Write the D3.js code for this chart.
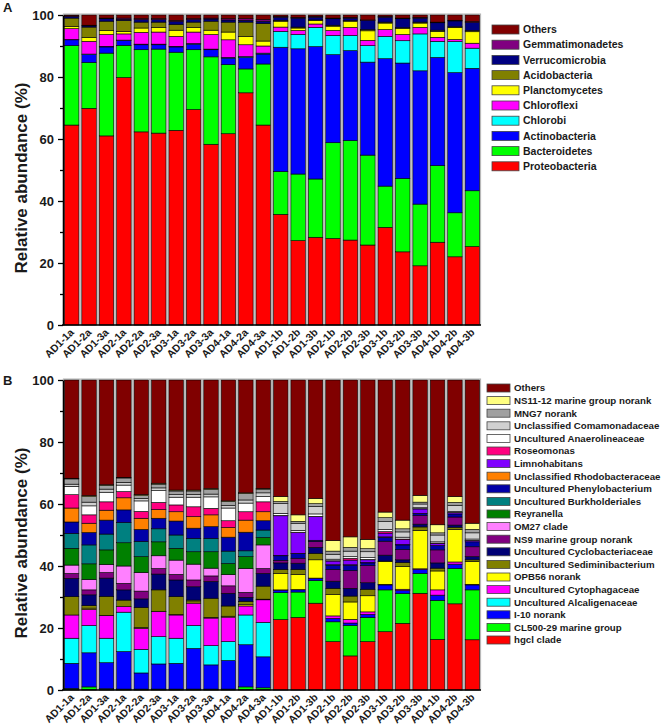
<!DOCTYPE html>
<html>
<head>
<meta charset="utf-8">
<style>
body{margin:0;background:#fff;}
svg{display:block;font-family:"Liberation Sans",Arial,sans-serif;font-weight:bold;}
</style>
</head>
<body>
<script src="https://d3js.org/d3.v7.min.js"></script>
<script>
const samples = ["AD1-1a","AD1-2a","AD1-3a","AD2-1a","AD2-2a","AD2-3a","AD3-1a","AD3-2a","AD3-3a","AD4-1a","AD4-2a","AD4-3a",
                 "AD1-1b","AD1-2b","AD1-3b","AD2-1b","AD2-2b","AD2-3b","AD3-1b","AD3-2b","AD3-3b","AD4-1b","AD4-2b","AD4-3b"]
const yTicks = [0, 20, 40, 60, 80, 100]

// panel A, phyla (bottom to top)
const proteobacteria = [64.5,69.9,61.0,79.8,62.3,61.9,62.8,69.5,58.3,61.7,74.9,64.5,35.7,27.2,28.3,27.9,27.4,25.8,31.5,23.6,19.1,26.7,22.0,25.3]
const bacteroidetes = [25.6,14.8,26.7,10.4,26.5,27.1,25.2,19.3,28.2,22.3,7.7,19.7,13.8,21.5,18.8,30.9,32.1,29.0,13.3,23.7,19.9,24.7,14.2,18.0]
const actinobacteria = [1.9,2.5,2.0,1.6,1.6,1.4,1.7,1.8,2.3,2.1,3.7,3.2,40.1,40.4,42.7,28.4,29.0,30.0,41.1,37.2,43.0,34.9,45.2,39.5]
const chlorobi = [0.1,0.2,0.2,0.1,0.2,0.2,0.2,0.2,0.2,0.2,0.3,0.3,5.1,4.6,6.2,6.2,4.9,5.3,7.2,7.2,11.9,5.2,10.0,6.5]
const chloroflexi = [3.5,4.1,3.8,2.0,3.8,3.9,3.2,3.7,4.7,5.7,3.8,2.3,1.4,1.3,1.1,1.6,2.6,1.7,2.2,2.0,2.1,1.3,0.7,1.6]
const planctomycetes = [0.7,1.3,1.3,0.8,1.4,1.5,2.0,1.5,1.4,2.5,2.7,1.6,1.9,0.8,1.1,1.4,2.0,3.1,2.1,1.9,1.4,1.9,3.8,3.7]
const acidobacteria = [2.7,3.3,3.0,3.5,1.9,1.7,1.8,1.7,2.9,3.2,4.6,5.6,0.3,0.3,0.2,0.3,0.2,0.4,0.3,0.3,0.3,0.4,0.3,0.4]
const verrucomicrobia = [0.5,0.4,0.8,0.4,0.8,0.8,1.0,0.8,0.7,0.7,0.6,0.8,1.0,2.9,0.9,2.1,0.8,2.9,1.6,2.9,1.3,2.4,1.9,2.6]
const gemmatimonadetes = [0.2,0.2,0.2,0.4,0.3,0.3,0.3,0.3,0.3,0.4,0.5,0.6,0.2,0.2,0.2,0.2,0.2,0.2,0.2,0.2,0.2,0.2,0.2,0.3]
const othersA = [0.3,3.3,1.0,1.0,1.2,1.2,1.8,1.2,1.0,1.2,1.2,1.4,0.5,0.8,0.5,1.0,0.8,1.6,0.5,1.0,0.8,2.3,1.7,2.1]

// panel B, genera (bottom to top)
const hgcl = [0.1,0.1,0.1,0.1,0.1,0.1,0.1,0.1,0.1,0.1,0.1,0.1,22.7,23.4,28.0,15.6,11.0,15.6,18.8,21.5,31.2,16.3,27.8,16.2]
const cl500 = [0.4,0.9,0.3,0.2,0.2,0.2,0.2,0.2,0.2,0.2,0.9,0.6,8.7,8.2,7.3,6.4,9.8,7.8,13.5,9.6,6.4,12.6,11.4,16.1]
const i10 = [8.1,11.0,8.4,12.1,5.2,8.1,8.3,13.1,7.8,9.2,13.6,10.0,0.8,0.7,0.7,1.1,0.8,1.0,1.6,1.0,1.3,1.7,1.4,1.6]
const alcaligenaceae = [8.1,8.8,7.9,12.7,7.6,8.8,8.1,7.4,6.2,6.1,9.6,11.1,0,0,0,0,0,0,0,0,0,0,0,0]
const cytophagaceae = [7.5,5.2,7.3,1.8,6.8,8.1,7.5,7.2,8.9,7.9,2.9,7.3,0.1,0.1,0.1,0.8,1.2,0.8,0.2,0.4,0.2,1.7,0.7,0.2]
const opb56 = [0,0.4,0.1,0,0.3,0.1,0.1,0.4,0.2,0.3,0.4,0.2,5.3,4.9,5.9,6.9,5.6,5.2,7.3,7.3,12.4,6.1,10.5,7.3]
const sediminibacterium = [5.9,0.8,6.1,2.1,6.4,6.9,5.8,0.6,6.2,3.3,1.1,4.2,1.3,1.6,2.1,2.0,1.9,2.1,0.2,1.3,1.1,0.9,0.7,0.6]
const cyclobacteriaceae = [5.9,3.5,5.9,3.3,2.8,5.1,5.4,4.3,5.4,4.1,1.3,4.1,2.1,2.0,1.9,2.3,2.5,2.1,1.9,0.9,0.9,1.7,0.7,1.0]
const ns9 = [1.6,1.6,1.8,2.1,2.5,1.8,1.8,2.2,1.8,2.4,1.6,1.6,0.8,1.6,1.9,3.8,5.7,5.5,4.5,3.3,2.8,4.2,2.6,3.2]
const om27 = [2.7,3.4,2.6,5.6,6.0,4.1,4.6,5.1,2.5,3.6,7.7,7.6,0,0,0,0,0,0,0,0,0,0,0,0]
const reyranella = [5.4,5.0,4.7,7.5,5.1,4.5,3.8,4.0,5.3,3.6,3.8,2.4,0,0,0,0,0,0,0,0,0,0,0,0]
const burkholderiales = [4.8,6.1,5.1,6.5,4.9,4.2,4.3,4.3,4.3,4.0,1.9,2.4,0,0,0,0,0,0,0,0,0,0,0,0]
const phenylobacterium = [3.7,4.0,4.5,4.1,3.9,3.4,4.5,3.3,3.8,4.5,6.0,3.0,1.5,1.5,0.4,1.4,1.8,0.9,1.3,1.5,0.7,1.4,1.0,1.6]
const rhodobacteraceae = [4.5,3.0,3.2,3.9,3.6,2.8,3.0,3.7,3.8,3.1,3.9,2.9,0.1,0.1,0,0.1,0.1,0.1,0.1,0.1,0,0,0,0]
const limnohabitans = [0,0,0,0,0,0,0,0,0,0,0,0,12.8,6.7,7.6,1.2,1.5,0.9,1.2,1.6,1.4,0.7,0.4,0.4]
const roseomonas = [4.3,2.7,2.7,2.0,2.2,2.3,2.2,3.2,2.1,2.2,2.7,3.2,0.1,0.1,0.1,0.1,0.6,0.1,0.5,0.2,0.1,0.1,0.1,0.1]
const anaerolineaceae = [2.7,2.9,3.1,2.1,3.4,3.8,2.5,3.1,3.7,4.1,2.8,1.7,0.7,0.6,0.8,0.5,0.5,0.6,0.7,0.6,0.3,0.4,0.3,0.4]
const comamonadaceae = [0.7,1.2,1.0,0.9,0.8,0.9,0.8,0.9,0.9,0.8,1.0,1.2,3.1,2.3,2.4,1.6,1.8,1.9,2.5,1.7,1.2,2.2,2.0,2.0]
const mng7 = [1.7,1.8,1.2,1.4,0.9,1.2,1.2,1.1,1.5,1.3,2.1,1.2,0.7,0.6,0.9,1.0,1.2,1.0,1.3,1.0,0.6,0.7,0.9,1.1]
const ns11 = [0.2,0.3,0.2,0.2,0.3,0.3,0.3,0.3,0.3,0.2,0.2,0.2,1.6,2.1,1.7,3.4,3.4,3.0,1.8,2.8,2.2,2.6,1.9,2.0]
const othersB = [31.7,37.3,33.8,31.4,37.0,33.3,35.5,35.5,35.0,39.0,36.4,35.0,37.6,43.5,38.2,51.8,50.6,51.4,42.6,45.2,37.2,46.7,37.6,46.2]

const seriesA = [
  ["Proteobacteria", proteobacteria, "#ff0000"],
  ["Bacteroidetes", bacteroidetes, "#00ff00"],
  ["Actinobacteria", actinobacteria, "#0000ff"],
  ["Chlorobi", chlorobi, "#00ffff"],
  ["Chloroflexi", chloroflexi, "#ff00ff"],
  ["Planctomycetes", planctomycetes, "#ffff00"],
  ["Acidobacteria", acidobacteria, "#808000"],
  ["Verrucomicrobia", verrucomicrobia, "#000080"],
  ["Gemmatimonadetes", gemmatimonadetes, "#800080"],
  ["Others", othersA, "#800000"]
]
const seriesB = [
  ["hgcl clade", hgcl, "#ff0000"],
  ["CL500-29 marine group", cl500, "#00ff00"],
  ["I-10 norank", i10, "#0000ff"],
  ["Uncultured Alcaligenaceae", alcaligenaceae, "#00ffff"],
  ["Uncultured Cytophagaceae", cytophagaceae, "#ff00ff"],
  ["OPB56 norank", opb56, "#ffff00"],
  ["Uncultured Sediminibacterium", sediminibacterium, "#808000"],
  ["Uncultured Cyclobacteriaceae", cyclobacteriaceae, "#000075"],
  ["NS9 marine group norank", ns9, "#800080"],
  ["OM27 clade", om27, "#ff80ff"],
  ["Reyranella", reyranella, "#008000"],
  ["Uncultured Burkholderiales", burkholderiales, "#008080"],
  ["Uncultured Phenylobacterium", phenylobacterium, "#0000a8"],
  ["Unclassified Rhodobacteraceae", rhodobacteraceae, "#ff8000"],
  ["Limnohabitans", limnohabitans, "#8000ff"],
  ["Roseomonas", roseomonas, "#ff0080"],
  ["Uncultured Anaerolineaceae", anaerolineaceae, "#ffffff"],
  ["Unclassified Comamonadaceae", comamonadaceae, "#d0d0d0"],
  ["MNG7 norank", mng7, "#a0a0a0"],
  ["NS11-12 marine group norank", ns11, "#ffff80"],
  ["Others", othersB, "#800000"]
]

const svg = d3.select("body").append("svg").attr("width", 666).attr("height", 728)
const ink = "#1a1a1a"

function drawPanel(series, top, bottom, letter, letterY, leg) {
  const keys = series.map(s => s[0])
  const color = d3.scaleOrdinal().domain(keys).range(series.map(s => s[2]))
  const rows = samples.map((s, i) => {
    const r = {sample: s}
    series.forEach(d => r[d[0]] = d[1][i])
    return r
  })
  const x = d3.scaleBand().domain(samples).range([63, 481]).paddingInner(0.17).paddingOuter(0.08)
  const y = d3.scaleLinear().domain([0, 100]).range([bottom, top])
  const g = svg.append("g")

  // bar shadows
  g.selectAll(".shadow").data(samples).enter().append("rect")
    .attr("x", d => x(d) - 1).attr("y", y(100) - 1)
    .attr("width", x.bandwidth() + 2).attr("height", y(0) - y(100) + 1)
    .attr("fill", "none").attr("stroke", "#b0b0b0").attr("stroke-width", 1)

  const stacked = d3.stack().keys(keys)(rows)
  g.selectAll(".layer").data(stacked).enter().append("g")
    .attr("fill", d => color(d.key))
    .selectAll("rect").data(d => d).enter().append("rect")
    .attr("x", d => x(d.data.sample))
    .attr("y", d => y(Math.min(d[1], 100)))
    .attr("width", x.bandwidth())
    .attr("height", d => Math.max(0, y(d[0]) - y(Math.min(d[1], 100))))
    .attr("stroke", "#000").attr("stroke-width", 0.6)

  // y axis
  const ay = g.append("g").attr("transform", "translate(63,0)")
    .call(d3.axisLeft(y).tickValues(yTicks).tickSize(5).tickSizeOuter(0).tickPadding(4))
  ay.select(".domain").attr("stroke", "#000").attr("stroke-width", 1.5)
  ay.selectAll(".tick line").attr("stroke-width", 1.3)
  ay.selectAll("text").attr("font-size", 13).attr("font-weight", "bold").attr("fill", ink)
    .attr("font-family", "Liberation Sans, Arial, sans-serif")
  const am = g.append("g").attr("transform", "translate(63,0)")
    .call(d3.axisLeft(y).tickValues([10, 30, 50, 70, 90]).tickSize(3).tickFormat(""))
  am.select(".domain").remove()
  am.selectAll(".tick line").attr("stroke-width", 1.3)

  // x axis line + labels
  g.append("line").attr("x1", 62).attr("x2", 481).attr("y1", bottom).attr("y2", bottom)
    .attr("stroke", "#000").attr("stroke-width", 1.5)
  g.selectAll(".xl").data(samples).enter().append("text")
    .attr("transform", d => `translate(${x(d) + x.bandwidth() / 2 + 3},${bottom + 8}) rotate(-45)`)
    .attr("text-anchor", "end").attr("font-size", 10.5).attr("fill", ink)
    .text(d => d)

  g.append("text")
    .attr("transform", `translate(27,${(top + bottom) / 2 + 8}) rotate(-90)`)
    .attr("text-anchor", "middle").attr("font-size", 17).attr("fill", ink)
    .text("Relative abundance (%)")

  g.append("text").attr("x", 3).attr("y", letterY).attr("font-size", 13).attr("fill", ink).text(letter)

  // legend, top entry first
  const items = keys.slice().reverse()
  const lg = g.selectAll(".leg").data(items).enter().append("g")
    .attr("transform", (d, i) => `translate(${leg.x},${leg.y0 + i * leg.dy})`)
  lg.append("rect").attr("x", 0).attr("y", -leg.sh / 2).attr("width", leg.sw).attr("height", leg.sh)
    .attr("fill", d => color(d)).attr("stroke", "#444").attr("stroke-width", 0.8)
  lg.append("text").attr("x", leg.sw + 4).attr("y", 0).attr("dy", "0.35em")
    .attr("font-size", leg.fs).attr("fill", ink).text(d => d)
}

drawPanel(seriesA, 15, 325, "A", 12, {x: 492, y0: 29.5, dy: 15.2, sw: 27, sh: 9, fs: 10.5})
drawPanel(seriesB, 380, 690, "B", 385, {x: 487, y0: 388, dy: 12.6, sw: 23, sh: 8, fs: 9.7})
</script>
</body>
</html>
